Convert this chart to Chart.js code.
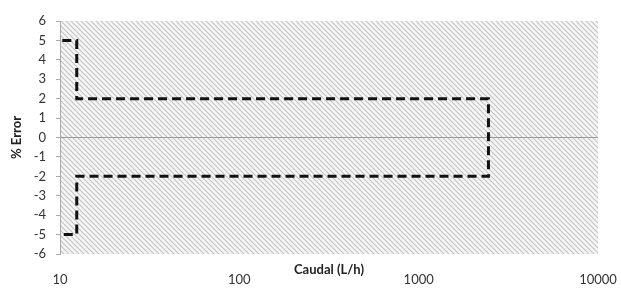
<!DOCTYPE html>
<html>
<head>
<meta charset="utf-8">
<script src="https://cdn.jsdelivr.net/npm/chart.js@4"></script>
<style>
  html, body { margin: 0; padding: 0; background: #fff; }
  #wrap { width: 621px; height: 296px; }
</style>
</head>
<body>
<div id="wrap"><canvas id="errorChart"></canvas></div>
<script>
// valeurs
const flow = [10.3, 12.4, 12.4, 2450, 2450, 12.4, 12.4, 10.3];
const errorPct = [5, 5, 2, 2, -2, -2, -5, -5];
const xTicks = [10, 100, 1000, 10000];
const yMin = -6, yMax = 6;

// motif hachuré du fond
function hatchPattern(ctx) {
  const c = document.createElement('canvas');
  c.width = 5; c.height = 5;
  const g = c.getContext('2d');
  g.fillStyle = '#f6f6f6';
  g.fillRect(0, 0, 5, 5);
  g.strokeStyle = 'rgba(150,150,150,0.5)';
  g.lineWidth = 1.2;
  g.beginPath();
  g.moveTo(-1, -1); g.lineTo(6, 6);
  g.moveTo(-1, 4); g.lineTo(1, 6);
  g.moveTo(4, -1); g.lineTo(6, 1);
  g.stroke();
  return ctx.createPattern(c, 'repeat');
}

const bgPlugin = {
  id: 'hatchBg',
  beforeDraw(chart) {
    const { ctx, chartArea: a } = chart;
    ctx.save();
    ctx.fillStyle = hatchPattern(ctx);
    ctx.fillRect(a.left, a.top, a.right - a.left, a.bottom - a.top);
    ctx.restore();
  }
};

const points = flow.map((x, i) => ({ x: x, y: errorPct[i] }));

new Chart(document.querySelector('#errorChart'), {
  type: 'scatter',
  data: {
    datasets: [{
      data: points,
      showLine: true,
      borderColor: '#111',
      borderWidth: 3,
      borderDash: [9, 5],
      pointRadius: 0,
      fill: false,
      tension: 0
    }]
  },
  options: {
    responsive: true,
    maintainAspectRatio: false,
    animation: false,
    layout: { padding: { top: 21, right: 23, bottom: 0, left: 0 } },
    plugins: { legend: { display: false }, tooltip: { enabled: false } },
    scales: {
      x: {
        type: 'logarithmic',
        min: 10,
        max: 10000,
        afterBuildTicks: (scale) => { scale.ticks = xTicks.map(v => ({ value: v })); },
        afterFit: (scale) => {
          scale.height = 42;
          scale.paddingLeft = 0;
          scale.paddingRight = 0;
        },
        border: { display: false },
        grid: { display: false, drawTicks: false },
        ticks: {
          padding: 18,
          color: '#333',
          font: { family: 'Lato', size: 13 },
          callback: (v) => String(v)
        },
        title: {
          display: true,
          text: 'Caudal (L/h)',
          color: '#222',
          font: { family: 'Lato', size: 13, weight: 'bold' },
          padding: { top: 0, bottom: 18 }
        }
      },
      y: {
        min: yMin,
        max: yMax,
        afterFit: (scale) => { scale.width = 60; },
        border: { display: true, color: '#aaa', width: 1 },
        grid: {
          drawTicks: true,
          tickLength: 4,
          tickColor: '#aaa',
          color: (c) => (c.tick && c.tick.value === 0 ? '#999' : 'rgba(0,0,0,0)')
        },
        ticks: {
          stepSize: 1,
          padding: 10,
          color: '#333',
          font: { family: 'Lato', size: 13 }
        },
        title: {
          display: true,
          text: '% Error',
          color: '#222',
          font: { family: 'Lato', size: 13, weight: 'bold' },
          padding: { top: 9, bottom: 0 }
        }
      }
    }
  },
  plugins: [bgPlugin]
});
</script>
</body>
</html>
